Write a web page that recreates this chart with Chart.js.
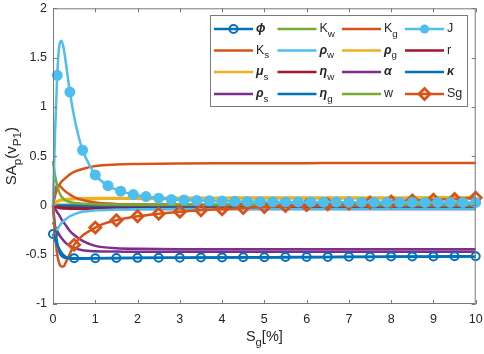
<!DOCTYPE html>
<html>
<head>
<meta charset="utf-8">
<script src="https://cdn.jsdelivr.net/npm/chart.js@4.4.1/dist/chart.umd.min.js"></script>
<style>
  html, body { margin: 0; padding: 0; background: #fff; }
  #wrap { width: 484px; height: 354px; position: relative; }
</style>
</head>
<body>
<div id="wrap"><canvas id="chart"></canvas></div>
<script>
// values (x = Sg in %)
const xGrid = [0, 0.05, 0.1, 0.15, 0.2, 0.3, 0.4, 0.5, 0.7, 1, 1.5, 2, 3, 4, 5, 6, 7, 8, 9, 10];

const phiX = [0, 0.1, 0.2, 0.3, 0.4, 0.5, 1, 1.5, 2, 2.5, 3, 3.5, 4, 4.5, 5, 5.5, 6, 6.5, 7, 7.5, 8, 8.5, 9, 9.5, 10];
const phiY = [-0.29, -0.4, -0.48, -0.52, -0.535, -0.535, -0.535, -0.533, -0.532, -0.53, -0.53, -0.528, -0.527, -0.526, -0.525, -0.524, -0.523, -0.522, -0.521, -0.52, -0.519, -0.518, -0.517, -0.516, -0.515];

const jX = [0, 0.05, 0.1, 0.15, 0.2, 0.25, 0.3, 0.4, 0.5, 0.6, 0.7, 0.85, 1.0,
  1.3, 1.6, 1.9, 2.2, 2.5, 2.8, 3.1, 3.4, 3.7, 4.0, 4.3, 4.6, 4.9, 5.2, 5.5, 5.8,
  6.1, 6.4, 6.7, 7.0, 7.3, 7.6, 7.9, 8.2, 8.5, 8.8, 9.1, 9.4, 9.7, 10];
const jY = [0, 0.75, 1.32, 1.62, 1.67, 1.6, 1.46, 1.15, 0.9, 0.71, 0.56, 0.42, 0.31,
  0.2, 0.145, 0.11, 0.09, 0.074, 0.06, 0.055, 0.05, 0.047, 0.044, 0.042, 0.04, 0.038, 0.037, 0.036, 0.035,
  0.035, 0.034, 0.034, 0.033, 0.033, 0.033, 0.032, 0.032, 0.032, 0.031, 0.031, 0.031, 0.03, 0.03];

const sgX = [0, 0.05, 0.1, 0.15, 0.2, 0.25, 0.3, 0.4, 0.5, 1, 1.5, 2, 2.5, 3, 3.5, 4, 4.5, 5, 5.5, 6, 6.5, 7, 7.5, 8, 8.5, 9, 9.5, 10];
const sgY = [0, -0.3, -0.5, -0.59, -0.62, -0.62, -0.58, -0.49, -0.4, -0.225, -0.15, -0.11, -0.085, -0.065, -0.05, -0.038, -0.027, -0.015, -0.005, 0.003, 0.012, 0.02, 0.03, 0.04, 0.05, 0.057, 0.066, 0.078];

// curves sampled on xGrid
const kwY    = [0.45, 0.3, 0.2, 0.13, 0.09, 0.05, 0.035, 0.025, 0.018, 0.012, 0.009, 0.008, 0.007, 0.006, 0.006, 0.005, 0.005, 0.005, 0.005, 0.005];
const kgY    = [0, 0.1, 0.17, 0.21, 0.24, 0.28, 0.315, 0.34, 0.37, 0.4, 0.415, 0.42, 0.425, 0.427, 0.428, 0.429, 0.43, 0.43, 0.43, 0.43];
const ksY    = [0, 0.16, 0.2, 0.2, 0.18, 0.14, 0.11, 0.085, 0.055, 0.03, 0.015, 0.01, 0.006, 0.004, 0.003, 0.002, 0.002, 0.001, 0.001, 0.001];
const rhoWY  = [-0.3, -0.27, -0.24, -0.21, -0.18, -0.14, -0.11, -0.09, -0.065, -0.05, -0.042, -0.039, -0.037, -0.036, -0.036, -0.035, -0.035, -0.035, -0.035, -0.035];
const rhoGY  = [0, 0.03, 0.045, 0.054, 0.06, 0.066, 0.069, 0.071, 0.073, 0.075, 0.076, 0.077, 0.078, 0.079, 0.08, 0.08, 0.081, 0.081, 0.082, 0.082];
const rY     = [0, -0.012, -0.02, -0.025, -0.028, -0.031, -0.033, -0.034, -0.035, -0.035, -0.035, -0.035, -0.036, -0.036, -0.036, -0.036, -0.036, -0.036, -0.036, -0.036];
const muSY   = [0, 0.02, 0.035, 0.045, 0.05, 0.056, 0.06, 0.062, 0.064, 0.066, 0.067, 0.068, 0.069, 0.07, 0.07, 0.07, 0.07, 0.07, 0.07, 0.07];
const etaWY  = [0, -0.01, -0.016, -0.02, -0.022, -0.025, -0.026, -0.027, -0.028, -0.028, -0.029, -0.029, -0.029, -0.029, -0.029, -0.029, -0.029, -0.029, -0.029, -0.029];
const alphaY = [0, -0.03, -0.07, -0.1, -0.14, -0.2, -0.26, -0.3, -0.36, -0.41, -0.435, -0.44, -0.444, -0.445, -0.445, -0.445, -0.445, -0.445, -0.445, -0.445];
const kappaY = [0, -0.001, -0.002, -0.002, -0.003, -0.003, -0.003, -0.003, -0.003, -0.003, -0.003, -0.003, -0.003, -0.003, -0.003, -0.003, -0.003, -0.003, -0.003, -0.003];
const rhoSY  = [-0.17, -0.22, -0.26, -0.3, -0.33, -0.38, -0.41, -0.43, -0.455, -0.465, -0.468, -0.47, -0.47, -0.47, -0.47, -0.47, -0.47, -0.47, -0.47, -0.47];
const etaGY  = [0, -0.22, -0.38, -0.47, -0.51, -0.535, -0.54, -0.54, -0.54, -0.537, -0.535, -0.533, -0.531, -0.529, -0.527, -0.525, -0.523, -0.521, -0.52, -0.519];
const wY     = [0, 0.003, 0.005, 0.006, 0.007, 0.008, 0.008, 0.009, 0.009, 0.01, 0.01, 0.01, 0.01, 0.01, 0.01, 0.01, 0.01, 0.01, 0.01, 0.01];

const legendLabels = ['ϕ', 'K_w', 'K_g', 'J', 'K_s', 'ρ_w', 'ρ_g', 'r', 'μ_s', 'η_w', 'α', 'κ', 'ρ_s', 'η_g', 'w', 'Sg'];
const xTitle = 'S_{g}[%]';
const yTitle = 'SA_{p}(v_{P1})';

// matlab default line colours
const C = {
  blue: '#0072BD', orange: '#D95319', yellow: '#EDB120', purple: '#7E2F8E',
  green: '#77AC30', cyan: '#4DBEEE', red: '#A2142F'
};
const FONT = '"Liberation Sans", Arial, sans-serif';

const zip = (xs, ys) => xs.map((x, i) => ({ x: x, y: ys[i] }));
const onStep = (x, start, step) => {
  const k = (x - start) / step;
  return x >= start - 1e-9 && Math.abs(k - Math.round(k)) < 1e-6;
};

const series = [
  { x: phiX, y: phiY, color: C.blue, marker: 'ring' },
  { x: xGrid, y: kwY, color: C.green },
  { x: xGrid, y: kgY, color: C.orange },
  { x: jX, y: jY, color: C.cyan, marker: 'dot' },
  { x: xGrid, y: ksY, color: C.orange },
  { x: xGrid, y: rhoWY, color: C.cyan },
  { x: xGrid, y: rhoGY, color: C.yellow },
  { x: xGrid, y: rY, color: C.red },
  { x: xGrid, y: muSY, color: C.yellow },
  { x: xGrid, y: etaWY, color: C.red },
  { x: xGrid, y: alphaY, color: C.purple },
  { x: xGrid, y: kappaY, color: C.blue },
  { x: xGrid, y: rhoSY, color: C.purple },
  { x: xGrid, y: etaGY, color: C.blue },
  { x: xGrid, y: wY, color: C.green },
  { x: sgX, y: sgY, color: C.orange, marker: 'diamond' }
];

function markerRadius(kind) {
  return ctx => {
    const x = ctx.raw ? ctx.raw.x : 0;
    if (kind === 'ring') return onStep(x, 0, 0.5) ? 4 : 0;
    if (kind === 'dot') return onStep(x, 0.1, 0.3) ? 4.5 : 0;
    if (kind === 'diamond') return x > 0 && onStep(x, 0, 0.5) ? 5.5 : 0;
    return 0;
  };
}

const datasets = series.map((s, i) => ({
  label: legendLabels[i],
  data: zip(s.x, s.y),
  borderColor: s.color,
  backgroundColor: s.color,
  borderWidth: 2.5,
  cubicInterpolationMode: 'monotone',
  clip: false,
  order: s.marker ? 0 : 1,
  pointStyle: s.marker === 'diamond' ? 'rectRot' : 'circle',
  pointRadius: s.marker ? markerRadius(s.marker) : 0,
  pointHoverRadius: 0,
  pointBorderWidth: s.marker === 'diamond' ? 2.8 : 2,
  pointBorderColor: s.color,
  pointBackgroundColor: s.marker === 'dot' ? s.color : 'rgba(255,255,255,0)'
}));

// text with _x or _{xy} subscripts
function parseRich(s) {
  const out = [];
  const re = /_\{([^}]*)\}|_(.)|([^_]+)/g;
  let m;
  while ((m = re.exec(s))) {
    if (m[3] !== undefined) out.push({ t: m[3], sub: false });
    else out.push({ t: m[1] !== undefined ? m[1] : m[2], sub: true });
  }
  return out;
}
function fontFor(p, size) {
  const sz = p.sub ? size * 0.78 : size;
  const st = /[\u0370-\u03ff]/.test(p.t) ? 'italic bold ' : '';
  return st + sz + 'px ' + FONT;
}
function drawRich(ctx, s, x, y, size, align) {
  const parts = parseRich(s);
  let w = 0;
  parts.forEach(p => { ctx.font = fontFor(p, size); w += ctx.measureText(p.t).width; });
  let cx = align === 'center' ? x - w / 2 : x;
  ctx.textAlign = 'left';
  ctx.textBaseline = 'middle';
  parts.forEach(p => {
    ctx.font = fontFor(p, size);
    ctx.fillText(p.t, cx, p.sub ? y + size * 0.4 : y);
    cx += ctx.measureText(p.t).width;
  });
}

const frame = {
  id: 'frame',
  afterDraw(chart) {
    const ctx = chart.ctx;
    const a = chart.chartArea;
    const xs = chart.scales.x, ys = chart.scales.y;
    ctx.save();
    // axes box + inward ticks
    ctx.strokeStyle = '#7a7a7a';
    ctx.lineWidth = 1;
    ctx.strokeRect(a.left + 0.5, a.top + 0.5, a.right - a.left - 1, a.bottom - a.top - 1);
    ctx.beginPath();
    xs.ticks.forEach(t => {
      const px = Math.round(xs.getPixelForValue(t.value)) + 0.5;
      ctx.moveTo(px, a.bottom); ctx.lineTo(px, a.bottom - 4);
      ctx.moveTo(px, a.top); ctx.lineTo(px, a.top + 4);
    });
    ys.ticks.forEach(t => {
      const py = Math.round(ys.getPixelForValue(t.value)) + 0.5;
      ctx.moveTo(a.left, py); ctx.lineTo(a.left + 4, py);
      ctx.moveTo(a.right, py); ctx.lineTo(a.right - 4, py);
    });
    ctx.stroke();

    // axis titles
    ctx.fillStyle = '#262626';
    drawRich(ctx, xTitle, (a.left + a.right) / 2, 337, 14.5, 'center');
    ctx.save();
    ctx.translate(12, (a.top + a.bottom) / 2);
    ctx.rotate(-Math.PI / 2);
    drawRich(ctx, yTitle, 0, 0, 15, 'center');
    ctx.restore();

    // legend, 4 columns
    const box = { x: 210, y: 15, w: 257, h: 91 };
    ctx.fillStyle = '#fff';
    ctx.fillRect(box.x, box.y, box.w, box.h);
    ctx.strokeStyle = '#7a7a7a';
    ctx.strokeRect(box.x + 0.5, box.y + 0.5, box.w, box.h);
    const rows = [29, 50.5, 72, 94];
    const cols = [214, 277.5, 342, 405];
    chart.data.datasets.forEach((ds, i) => {
      const x0 = cols[i % 4], y0 = rows[Math.floor(i / 4)];
      const s = series[i];
      ctx.strokeStyle = ds.borderColor;
      ctx.lineWidth = 2.5;
      ctx.beginPath(); ctx.moveTo(x0, y0); ctx.lineTo(x0 + 39, y0); ctx.stroke();
      const mx = x0 + 19.5;
      ctx.lineWidth = 2;
      if (s.marker === 'ring') {
        ctx.beginPath(); ctx.arc(mx, y0, 4, 0, Math.PI * 2); ctx.stroke();
      } else if (s.marker === 'dot') {
        ctx.fillStyle = ds.borderColor;
        ctx.beginPath(); ctx.arc(mx, y0, 4.5, 0, Math.PI * 2); ctx.fill();
      } else if (s.marker === 'diamond') {
        ctx.lineWidth = 2.8;
        ctx.beginPath();
        ctx.moveTo(mx, y0 - 5.5); ctx.lineTo(mx + 5.5, y0); ctx.lineTo(mx, y0 + 5.5); ctx.lineTo(mx - 5.5, y0);
        ctx.closePath(); ctx.stroke();
      }
      ctx.fillStyle = '#262626';
      drawRich(ctx, ds.label, x0 + 42, y0, 12.5, 'left');
    });
    ctx.restore();
  }
};

new Chart(document.getElementById('chart'), {
  type: 'line',
  data: { datasets: datasets },
  plugins: [frame],
  options: {
    responsive: true,
    maintainAspectRatio: false,
    animation: false,
    layout: { padding: { top: 7, right: 8, left: 0, bottom: 0 } },
    plugins: { legend: { display: false }, tooltip: { enabled: false } },
    scales: {
      x: {
        type: 'linear', min: 0, max: 10,
        grid: { display: false, drawTicks: false },
        border: { display: false },
        ticks: { stepSize: 1, padding: 8, color: '#262626', font: { family: FONT, size: 12.5 }, maxRotation: 0 },
        afterFit: s => { s.height = 50; s.paddingLeft = 0; s.paddingRight = 0; }
      },
      y: {
        type: 'linear', min: -1, max: 2,
        grid: { display: false, drawTicks: false },
        border: { display: false },
        ticks: { stepSize: 0.5, padding: 6, color: '#262626', font: { family: FONT, size: 12.5 }, callback: v => String(v) },
        afterFit: s => { s.width = 53; s.paddingTop = 0; s.paddingBottom = 0; }
      }
    }
  }
});
</script>
</body>
</html>
